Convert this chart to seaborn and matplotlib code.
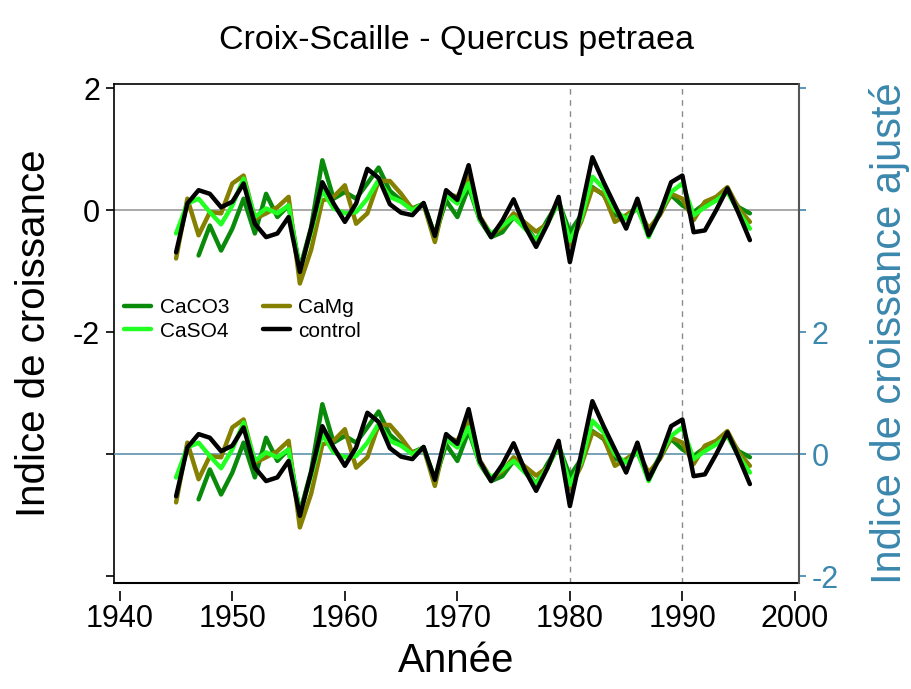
import numpy as np
import pandas as pd
import matplotlib
matplotlib.use("Agg")
import matplotlib.pyplot as plt
import seaborn as sns
from matplotlib.lines import Line2D

years = list(range(1945, 1997))

caco3 = [np.nan, np.nan,
         -0.74, -0.25, -0.66, -0.30, 0.19, -0.38, 0.27, -0.11, 0.08,
         -0.96, -0.28, 0.82, 0.19, 0.30, 0.19, 0.44, 0.70, 0.32, 0.16,
         0.03, 0.11, -0.42, 0.16, -0.11, 0.38, -0.16, -0.44, -0.36, -0.11,
         -0.25, -0.49, -0.16, 0.14, -0.36, -0.08, 0.38, 0.25, -0.08, -0.11,
         0.03, -0.38, -0.03, 0.25, 0.08, -0.03, 0.11, 0.19, 0.30, 0.05, -0.05]

caso4 = [-0.38, 0.11, 0.19, -0.03, -0.23, 0.08, 0.52, -0.11, 0.03, -0.05,
         0.08, -0.98, -0.35, 0.33, 0.03, -0.05, -0.03, 0.19, 0.50, 0.22,
         0.14, 0.00, 0.11, -0.41, 0.25, 0.11, 0.44, -0.16, -0.38, -0.25,
         -0.11, -0.30, -0.49, -0.22, 0.14, -0.50, -0.14, 0.55, 0.36, 0.00,
         -0.14, 0.05, -0.44, -0.03, 0.30, 0.44, -0.08, 0.05, 0.16, 0.30,
         -0.03, -0.30]

camg = [-0.79, 0.19, -0.41, -0.03, -0.05, 0.44, 0.57, -0.14, -0.05, 0.05,
        0.22, -1.20, -0.65, 0.16, 0.22, 0.41, -0.22, -0.05, 0.48, 0.48,
        0.27, 0.02, 0.10, -0.52, 0.28, 0.22, 0.55, -0.10, -0.40, -0.28,
        -0.05, -0.20, -0.35, -0.22, 0.15, -0.57, -0.19, 0.36, 0.27, -0.19,
        -0.08, 0.05, -0.30, -0.08, 0.27, 0.19, -0.16, 0.14, 0.22, 0.38,
        0.03, -0.19]

control = [-0.69, 0.11, 0.33, 0.27, 0.05, 0.14, 0.44, -0.22, -0.44, -0.38,
           -0.11, -1.01, -0.30, 0.46, 0.11, -0.19, 0.11, 0.68, 0.53, 0.10,
           -0.04, -0.08, 0.12, -0.42, 0.33, 0.17, 0.74, -0.12, -0.44, -0.17,
           0.18, -0.26, -0.60, -0.23, 0.22, -0.85, 0.00, 0.87, 0.46, 0.08,
           -0.30, 0.19, -0.41, -0.05, 0.46, 0.57, -0.36, -0.33, 0.00, 0.36,
           -0.05, -0.49]

treatments = ["CaCO3", "CaSO4", "CaMg", "control"]
colors = {"CaCO3": "#0a8a0a", "CaSO4": "#22ff22", "CaMg": "#858000", "control": "#000000"}
draw_order = ["CaCO3", "CaMg", "CaSO4", "control"]

df = pd.DataFrame({
    "year": years * 4,
    "value": caco3 + caso4 + camg + control,
    "treatment": sum([[t] * len(years) for t in treatments], []),
}).dropna()

sns.set_style("white")
plt.rcParams["font.family"] = ["Liberation Sans", "DejaVu Sans"]
plt.rcParams["text.color"] = "black"
plt.rcParams["axes.labelcolor"] = "black"
plt.rcParams["xtick.color"] = "black"
plt.rcParams["ytick.color"] = "black"

blue = "#3b87ad"
fig = plt.figure(figsize=(9.11, 6.89), dpi=100)
ax = fig.add_axes([0.125, 0.154, 0.752, 0.724])
ax2 = ax.twinx()

# upper panel (left axis)
sns.lineplot(data=df, x="year", y="value", hue="treatment", hue_order=draw_order,
             palette=colors, linewidth=3.2, ax=ax, legend=False, errorbar=None)
# lower panel (right axis, adjusted index)
sns.lineplot(data=df, x="year", y="value", hue="treatment", hue_order=draw_order,
             palette=colors, linewidth=3.2, ax=ax2, legend=False, errorbar=None)

ax.set_xlim(1939.47, 2000.36)
ax.set_ylim(-6.11, 2.07)
ax2.set_ylim(-2.11, 6.07)

ax.axhline(0, color="#9a9a9a", lw=1.2, zorder=0)
ax2.axhline(0, color="#5f92ad", lw=1.2, zorder=0)
for xv in (1980, 1990):
    ax.axvline(xv, color="#8a8a8a", lw=1, ls=(0, (4, 4)), zorder=0)

ax.set_xticks([1940, 1950, 1960, 1970, 1980, 1990, 2000])
ax.set_yticks([2, 0, -2, -4, -6])
ax.set_yticklabels(["2", "0", "-2", "", ""])
ax2.set_yticks([-2, 0, 2, 4, 6])
ax2.set_yticklabels(["-2", "0", "2", "", ""])

ax.tick_params(axis="x", labelsize=22, length=7, width=1.2, direction="out", pad=2, bottom=True)
ax.tick_params(axis="y", labelsize=22, length=6, width=1.2, direction="out", pad=4, left=True)
ax2.tick_params(axis="y", labelsize=22, length=5, width=1.2, direction="out", pad=4,
                colors=blue, right=True)

for s in ["top", "left"]:
    ax.spines[s].set_color("black")
    ax.spines[s].set_linewidth(1.2)
ax.spines["bottom"].set_position(("outward", 6))
ax.spines["bottom"].set_visible(False)
ax.plot([0, 1], [0, 0], transform=ax.transAxes, color="black", lw=1.5, clip_on=False)
ax2.spines["right"].set_color("#555555")
ax2.spines["right"].set_linewidth(1.5)
for s in ["top", "left", "bottom"]:
    ax2.spines[s].set_visible(False)
ax.spines["right"].set_visible(False)

ax.set_xlabel("Année", fontsize=29, labelpad=6)
ax.set_ylabel("Indice de croissance", fontsize=29, labelpad=14)
ax2.set_ylabel("Indice de croissance ajusté", fontsize=30, color=blue, labelpad=22)
ax.set_title("Croix-Scaille - Quercus petraea", fontsize=24.5, pad=25)

handles = [Line2D([], [], color=colors[t], lw=3.2) for t in treatments]
ax.legend(handles, treatments, ncol=2, loc="upper left", bbox_to_anchor=(-0.012, 0.608),
          frameon=False, handlelength=1.3, columnspacing=1.6,
          handletextpad=0.4, labelspacing=0.2, prop={"size": 15})

fig.savefig("out.png", dpi=100)
